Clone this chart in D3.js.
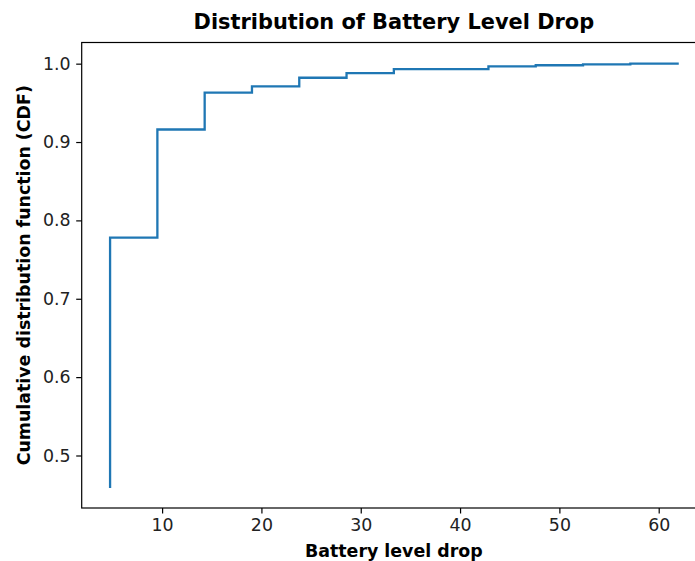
<!DOCTYPE html>
<html>
<head>
<meta charset="utf-8">
<script src="https://cdn.jsdelivr.net/npm/d3@7"></script>
<style>
  html, body { margin: 0; padding: 0; background: #fff; }
  svg { display: block; font-family: "DejaVu Sans", sans-serif; }
</style>
</head>
<body>
<svg id="chart" width="695" height="561"></svg>
<script>
// Battery level drop values (percentage points) and cumulative share at each step
const drops = [4.762, 9.524, 14.286, 19.048, 23.810, 28.571, 33.333, 42.857, 47.619, 52.381, 57.143, 61.905];
const cdf   = [0.460, 0.778, 0.916, 0.963, 0.971, 0.982, 0.988, 0.993, 0.9965, 0.998, 0.999, 1.000];
const xTicks = [10, 20, 30, 40, 50, 60];
const yTicks = [0.5, 0.6, 0.7, 0.8, 0.9, 1.0];

const titleText = "Distribution of Battery Level Drop";
const xLabel = "Battery level drop";
const yLabel = "Cumulative distribution function (CDF)";

const svg = d3.select("#chart");
const plot = { left: 81.7, right: 706, top: 42.5, bottom: 508 };

// 5% padding around the data extent on both axes
function padded(ext) {
  const m = (ext[1] - ext[0]) * 0.05;
  return [ext[0] - m, ext[1] + m];
}
const x = d3.scaleLinear().domain(padded(d3.extent(drops))).range([plot.left, plot.right]);
const y = d3.scaleLinear().domain(padded(d3.extent(cdf))).range([plot.bottom, plot.top]);

// Step line
const line = d3.line()
  .x((d, i) => x(drops[i]))
  .y((d, i) => y(cdf[i]))
  .curve(d3.curveStepBefore);

svg.append("path")
  .datum(cdf)
  .attr("d", line)
  .attr("fill", "none")
  .attr("stroke", "#1f77b4")
  .attr("stroke-width", 2.3)
  .attr("stroke-linejoin", "miter")
  .attr("stroke-linecap", "square");

// Axes
const xAxis = d3.axisBottom(x).tickValues(xTicks).tickFormat(d3.format("d"))
  .tickSize(5.5).tickPadding(5.5);
const yAxis = d3.axisLeft(y).tickValues(yTicks).tickFormat(d3.format(".1f"))
  .tickSize(5.5).tickPadding(5.5);

const gx = svg.append("g").attr("transform", `translate(0,${plot.bottom})`).call(xAxis);
const gy = svg.append("g").attr("transform", `translate(${plot.left},0)`).call(yAxis);
[gx, gy].forEach(g => {
  g.select(".domain").remove();
  g.selectAll(".tick line").attr("stroke", "#000").attr("stroke-width", 1.2);
  g.selectAll(".tick text").attr("fill", "#222").style("font-size", "17.4px")
    .style("font-family", "'DejaVu Sans', sans-serif");
});

// Frame
svg.append("rect")
  .attr("x", plot.left).attr("y", plot.top)
  .attr("width", plot.right - plot.left).attr("height", plot.bottom - plot.top)
  .attr("fill", "none").attr("stroke", "#000").attr("stroke-width", 1.2);

// Title and axis labels
svg.append("text")
  .attr("x", (plot.left + plot.right) / 2).attr("y", 29)
  .attr("text-anchor", "middle")
  .style("font-size", "20.9px").style("font-weight", "bold")
  .text(titleText);

svg.append("text")
  .attr("x", (plot.left + plot.right) / 2).attr("y", 556.5)
  .attr("text-anchor", "middle")
  .style("font-size", "17.4px").style("font-weight", "bold")
  .text(xLabel);

svg.append("text")
  .attr("transform", `translate(29.5,${(plot.top + plot.bottom) / 2}) rotate(-90)`)
  .attr("text-anchor", "middle")
  .style("font-size", "17.4px").style("font-weight", "bold")
  .text(yLabel);
</script>
</body>
</html>
